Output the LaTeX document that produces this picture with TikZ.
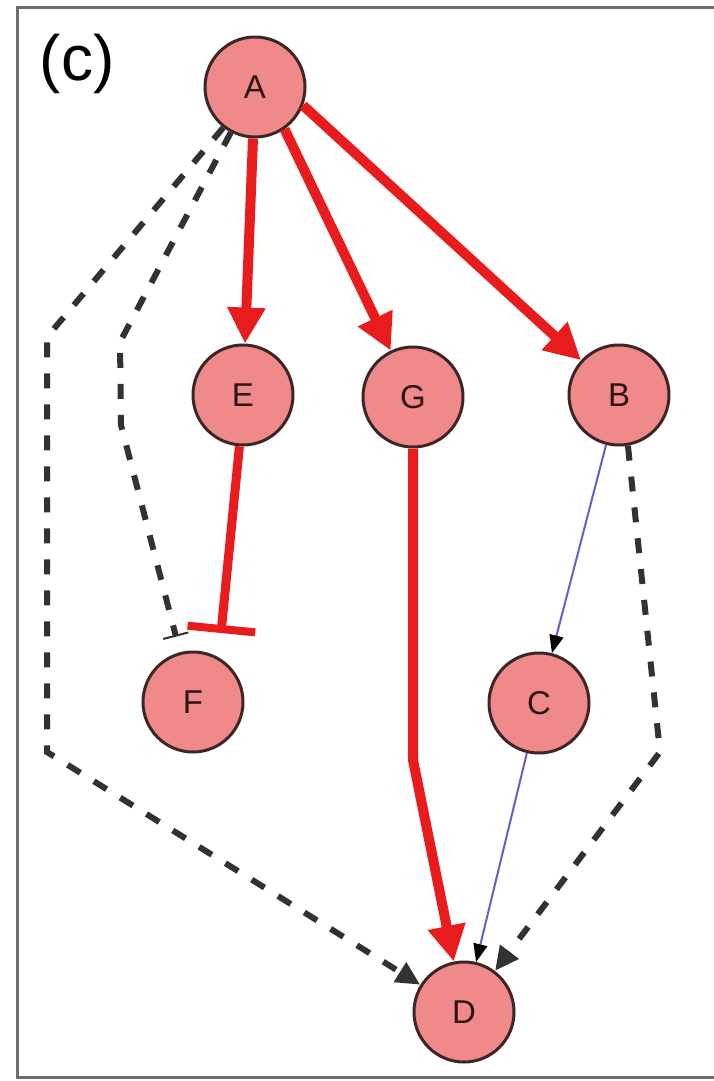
\documentclass[tikz,border=0pt]{standalone}
\usepackage{fontspec}
\setmainfont{Liberation Sans}
\usetikzlibrary{arrows.meta}
\definecolor{nodefill}{RGB}{240,138,138}
\definecolor{nodeline}{RGB}{60,38,38}
\definecolor{nodetext}{RGB}{45,20,20}
\definecolor{actred}{RGB}{232,28,28}
\definecolor{linkblue}{RGB}{95,95,205}
\definecolor{dashgray}{RGB}{50,50,50}
\definecolor{framegray}{RGB}{110,110,110}
\tikzset{
  gene/.style={circle, draw=nodeline, line width=3pt, fill=nodefill,
    minimum size=100pt, inner sep=0pt, text=nodetext,
    font=\fontsize{33}{33}\selectfont},
  activate/.style={draw=actred, line width=10pt,
    -{Triangle[length=36pt, width=36pt]}},
  inhibit/.style={draw=actred, line width=9pt, -{Bar[width=68pt, line width=8pt]}},
  thinlink/.style={draw=linkblue, line width=2pt,
    -{Triangle[length=18pt, width=14pt, color=black]}},
  indirect/.style={draw=dashgray, line width=6pt, dash pattern=on 15pt off 16pt,
    -{Triangle[length=24pt, width=22pt]}},
  indirectbar/.style={draw=dashgray, line width=6pt, dash pattern=on 15pt off 16pt,
    -{Bar[width=26pt, line width=2pt]}},
}
\begin{document}
\begin{tikzpicture}[x=1pt, y=-1pt]
  \useasboundingbox (0,0) rectangle (714,1081);
  \fill[white] (0,0) rectangle (714,1081);

  % panel frame
  \draw[framegray, line width=3pt] (714,8) -- (17,8) -- (17,1077) -- (714,1077);

  % panel label
  \node (label) at (77,64) {\fontsize{64}{64}\selectfont (c)};

  % genes
  \node[gene] (A) at (255,87) {A};
  \node[gene] (E) at (243,395) {E};
  \node[gene] (G) at (413,397) {G};
  \node[gene] (B) at (619,395) {B};
  \node[gene] (F) at (193,702) {F};
  \node[gene] (C) at (539,703) {C};
  \node[gene] (D) at (464,1012) {D};

  % bend points
  \coordinate (etee) at (221,633);
  \coordinate (gbend) at (413,760);
  \coordinate (bbend) at (660,752);
  \coordinate (obend1) at (47,337);
  \coordinate (obend2) at (47,752);
  \coordinate (ibend1) at (120,342);
  \coordinate (ibend2) at (121,425);

  % direct activations
  \draw[activate] (A) -- (E);
  \draw[activate] (A.-55) -- (G);
  \draw[activate] (A.-21) -- (B);
  \draw[activate] (G.south) -- (gbend) -- (D);

  % inhibition E -| F
  \draw[inhibit] (E.-94) -- (etee);

  % weak links
  \draw[thinlink] (B) -- (C);
  \draw[thinlink] (C) -- (D);

  % indirect links
  \draw[indirect] (B.-80) -- (bbend) -- (D);
  \draw[indirect] (A.-128) -- (obend1) -- (obend2) -- (D);
  \draw[indirectbar, shorten >=16pt] (A.-118) -- (ibend1) -- (ibend2) -- (F);
\end{tikzpicture}
\end{document}
